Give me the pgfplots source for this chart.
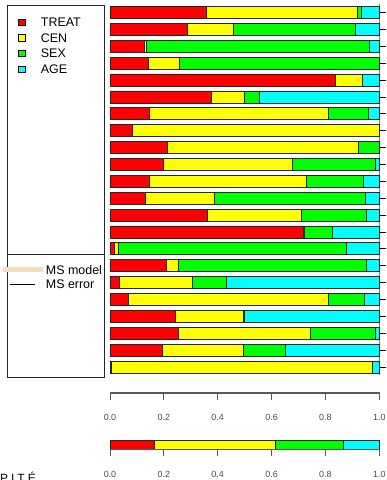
\documentclass[border=0pt]{standalone}
\usepackage{fontspec}
\setmainfont{Liberation Sans}
\newfontfamily\spaced[LetterSpace=25]{Liberation Sans}
\usepackage{pgfplots}
\usepackage{pgfplotstable}
\pgfplotsset{compat=1.18}
\definecolor{cRed}{HTML}{FF0000}
\definecolor{cYel}{HTML}{FFFF00}
\definecolor{cGrn}{HTML}{00FF00}
\definecolor{cCya}{HTML}{00FFFF}
\definecolor{wheatc}{HTML}{F3DDBA}
\pgfplotstableread{
y treat cen sex age
1 0.356 0.564 0.012 0.068
2 0.287 0.171 0.454 0.088
3 0.127 0.008 0.827 0.038
4 0.142 0.115 0.743 0.000
5 0.835 0.102 0.000 0.063
6 0.376 0.124 0.054 0.446
7 0.147 0.662 0.150 0.041
8 0.082 0.918 0.000 0.000
9 0.212 0.711 0.077 0.000
10 0.199 0.478 0.307 0.016
11 0.145 0.585 0.212 0.058
12 0.130 0.256 0.563 0.051
13 0.360 0.349 0.244 0.047
14 0.717 0.004 0.104 0.175
15 0.016 0.015 0.846 0.123
16 0.209 0.043 0.701 0.047
17 0.036 0.270 0.125 0.569
18 0.067 0.745 0.131 0.057
19 0.244 0.251 0.004 0.501
20 0.252 0.493 0.240 0.015
21 0.193 0.302 0.156 0.349
22 0.006 0.969 0.000 0.025
}\maindata
\pgfplotstableread{
y treat cen sex age
0.5 0.165 0.449 0.252 0.134
}\sumdata
\pgfplotsset{
  rticks/.style={
    xmin=0, xmax=1,
    xtick={0,0.2,0.4,0.6,0.8,1},
    ytick=\empty,
    xtick pos=bottom,
    tick align=outside, major tick length=6.7bp,
    axis line style={black!65, line width=0.8bp},
    xtick style={black!65, line width=0.8bp},
    xticklabel style={font=\fontsize{9}{11}\selectfont, text=black!70, inner sep=0pt, anchor=center},
    /pgf/number format/assume math mode=true,
    /pgf/number format/fixed, /pgf/number format/fixed zerofill, /pgf/number format/precision=1,
  }
}
\begin{document}
\begin{tikzpicture}
\useasboundingbox (0bp,0bp) rectangle (387bp,480bp);
% x axis for main bars
\begin{axis}[
  at={(110bp,86.7bp)}, anchor=south west,
  scale only axis, width=269.3bp, height=1bp,
  ymin=0, ymax=1, rticks,
  xticklabel style={yshift=-17.7bp},
]
\addplot[draw=none, fill=none] coordinates {(0,0) (1,1)};
\end{axis}
% summary bar
\begin{axis}[
  at={(110bp,30.7bp)}, anchor=south west,
  scale only axis, width=269.3bp, height=8.7bp,
  xbar stacked, bar width=8.7bp,
  ymin=0, ymax=1, rticks,
  enlargelimits=false, clip=false,
  xticklabel style={yshift=-18.3bp},
  every axis plot/.append style={draw=black!85, line width=0.7bp},
]
\addplot[fill=cRed] table[x=treat,y=y]{\sumdata};
\addplot[fill=cYel] table[x=cen,y=y]{\sumdata};
\addplot[fill=cGrn] table[x=sex,y=y]{\sumdata};
\addplot[fill=cCya] table[x=age,y=y]{\sumdata};
\end{axis}
% main stacked bars
\begin{axis}[
  at={(110bp,104.6bp)}, anchor=south west,
  scale only axis, width=269.3bp, height=371.4bp,
  xbar stacked, bar width=12bp,
  xmin=0, xmax=1, ymin=0.5, ymax=22.5, y dir=reverse,
  enlargelimits=false, clip=false,
  hide x axis, axis y line*=right,
  y axis line style={draw=gray, line width=0.8bp},
  ytick={1,...,22}, yticklabels={},
  tick align=outside, major tick length=7bp,
  ytick style={black, line width=0.7bp},
  every axis plot/.append style={draw=black!85, line width=0.7bp},
]
\addplot[fill=cRed] table[x=treat,y=y]{\maindata};
\addplot[fill=cYel] table[x=cen,y=y]{\maindata};
\addplot[fill=cGrn] table[x=sex,y=y]{\maindata};
\addplot[fill=cCya] table[x=age,y=y]{\maindata};
\end{axis}
% axis lines and tick marks under the two bar panels (decoration)
\foreach \ay in {86.7, 30.7}{
  \draw[black!65, line width=0.8bp] (110bp,\ay bp) -- (379.3bp,\ay bp);
  \foreach \tx in {110, 163.86, 217.72, 271.58, 325.44, 379.3}{
    \draw[black!65, line width=0.8bp] (\tx bp,\ay bp) -- (\tx bp,\ay bp-6.7bp);
  }
}
% legend box
\draw[black!85, line width=0.9bp] (7bp,102.7bp) rectangle (104.3bp,474.3bp);
\draw[black!85, line width=0.9bp] (7bp,226bp) -- (104.3bp,226bp);
\foreach \c/\t/\yy in {cRed/TREAT/457.5, cYel/CEN/442, cGrn/SEX/426.5, cCya/AGE/410.5}{
  \filldraw[fill=\c, draw=black, line width=0.7bp] (18.3bp,\yy bp-3.3bp) rectangle (25bp,\yy bp+3.3bp);
  \node[anchor=west, inner sep=0pt, font=\fontsize{12.5}{14}\selectfont] at (40.7bp,\yy bp) {\t};
}
\draw[wheatc, line width=5bp] (2.7bp,210bp) -- (42.7bp,210bp);
\node[anchor=west, inner sep=0pt, font=\fontsize{12.5}{14}\selectfont] at (45.7bp,210bp) {MS model};
\draw[black, line width=1bp] (10bp,195.7bp) -- (35bp,195.7bp);
\node[anchor=west, inner sep=0pt, font=\fontsize{12.5}{14}\selectfont] at (45.7bp,195.7bp) {MS error};
\node[anchor=base west, inner sep=0pt, font=\fontsize{12}{14}\spaced] at (0bp,-2bp) {PITÉ};
\end{tikzpicture}
\end{document}
